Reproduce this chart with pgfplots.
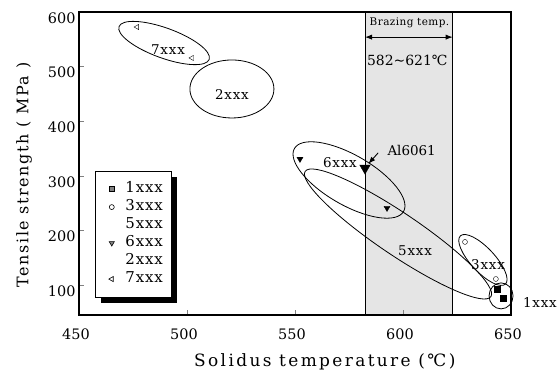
\documentclass[border=0pt]{standalone}
\usepackage{fontspec}
\setmainfont{DejaVu Serif}
\newfontfamily\xlabfont[LetterSpace=14]{DejaVu Serif}
\newfontfamily\ylabfont[LetterSpace=10]{DejaVu Serif}
\newfontfamily\legfont[LetterSpace=6]{DejaVu Serif}
\newfontfamily\smallfont[LetterSpace=4]{DejaVu Serif}
\usepackage{pgfplots}
\pgfplotsset{compat=1.18}
\usetikzlibrary{shadows,arrows.meta}
\begin{document}
\begin{tikzpicture}
\begin{axis}[
 name=ax,
 scale only axis, width=432bp, height=303bp,
 xmin=450, xmax=650, ymin=45, ymax=600,
 xtick={450,500,...,650}, ytick={100,200,...,600},
 tick align=inside, xtick pos=left, ytick pos=left,
 major tick length=5bp,
 axis line style={line width=1.4bp},
 axis on top,
 /pgf/number format/assume math mode=true,
 ticklabel style={font=\fontsize{14.5}{16}\selectfont},
 xticklabel style={yshift=-10bp, xshift=-3bp},
 yticklabel style={yshift=-6bp},
 xlabel={Solidus temperature (℃)},
 ylabel={Tensile strength ( MPa )},
 xlabel style={font=\xlabfont\fontsize{17}{20}\selectfont, at={(axis description cs:0.569,-0.155)}, anchor=center},
 ylabel style={font=\ylabfont\fontsize{16}{19}\selectfont, at={(axis description cs:-0.127,0.462)}, anchor=center},
 clip=false,
 legend style={at={(axis description cs:0.037,0.059)}, anchor=south west, draw=black, line width=0.6bp,
   font=\legfont\fontsize{15}{17}\selectfont,
   nodes={inner sep=0bp, text height=10.5bp, text depth=3bp},
   drop shadow={shadow xshift=6bp, shadow yshift=-6bp, fill=black, opacity=1},
   row sep=4.5bp, inner xsep=8bp, inner ysep=11bp,
   /tikz/every odd column/.append style={column sep=11bp}},
 legend cell align=left,
]
% brazing band
\fill[gray!20] (axis cs:582.4,45) rectangle (axis cs:623,600);
\draw[line width=0.8bp] (axis cs:582.4,45) -- (axis cs:582.4,600);
\draw[line width=0.8bp] (axis cs:623,45) -- (axis cs:623,600);
\node[font=\smallfont\fontsize{10.5}{12}\selectfont, inner sep=1bp] at (axis cs:603,580) {Brazing temp.};
\draw[{Latex}-{Latex}, line width=0.9bp] (axis cs:582.4,554) -- (axis cs:623,554);
\node[font=\fontsize{14}{16}\selectfont] at (axis cs:602,512) {582\textasciitilde621℃};

% legend entries
\addlegendimage{only marks, mark=square*, mark options={fill=gray, draw=black}, mark size=2.5}
\addlegendentry{1xxx}
\addlegendimage{only marks, mark=o, mark size=2.5}
\addlegendentry{3xxx}
\addlegendimage{empty legend}
\addlegendentry{5xxx}
\addlegendimage{only marks, mark=triangle*, mark options={rotate=180, fill=gray, draw=black}, mark size=3}
\addlegendentry{6xxx}
\addlegendimage{empty legend}
\addlegendentry{2xxx}
\addlegendimage{only marks, mark=triangle, mark options={rotate=90}, mark size=3}
\addlegendentry{7xxx}

% ellipses
\draw[line width=0.8bp, rotate around={-20:(axis cs:489.4,543.2)}] (axis cs:489.4,543.2) ellipse [x radius=48bp, y radius=15bp];
\draw[line width=0.8bp] (axis cs:520.8,459) ellipse [x radius=42bp, y radius=29bp];
\draw[line width=0.8bp, rotate around={-30:(axis cs:575,292.3)}] (axis cs:575,292.3) ellipse [x radius=63bp, y radius=25bp];
\draw[line width=0.8bp, rotate around={-34:(axis cs:597.7,193.4)}] (axis cs:597.7,193.4) ellipse [x radius=112bp, y radius=21bp];
\draw[line width=0.8bp, rotate around={-47:(axis cs:637,145.8)}] (axis cs:637,145.8) ellipse [x radius=33bp, y radius=12bp];
\draw[line width=0.8bp] (axis cs:645.4,80) ellipse [x radius=12bp, y radius=13bp];

% data
\addplot[only marks, mark=triangle, mark options={rotate=90}, mark size=3, forget plot] coordinates {(476.9,572.5) (502.3,515.8)};
\addplot[only marks, mark=triangle*, mark options={rotate=180, fill=black}, mark size=3.5, forget plot] coordinates {(552.3,330.8) (592.6,241)};
\addplot[only marks, mark=triangle*, mark options={rotate=180, fill=black}, mark size=6, forget plot] coordinates {(582.4,314)};
\addplot[only marks, mark=o, mark size=2.5, forget plot] coordinates {(628.7,178.8) (643,111)};
\addplot[only marks, mark=square*, mark options={fill=black}, mark size=2.8, forget plot] coordinates {(643.5,92.7) (646.3,76)};

% labels
\node[font=\legfont\fontsize{13.5}{15}\selectfont] at (axis cs:491.2,530.4) {7xxx};
\node[font=\legfont\fontsize{13.5}{15}\selectfont] at (axis cs:520.8,448) {2xxx};
\node[font=\legfont\fontsize{13.5}{15}\selectfont] at (axis cs:570.8,325) {6xxx};
\node[font=\fontsize{13.5}{15}\selectfont] at (axis cs:604,347) {Al6061};
\draw[-{Latex}, line width=0.9bp] (axis cs:588.5,342) -- (axis cs:584,322);
\node[font=\legfont\fontsize{13.5}{15}\selectfont] at (axis cs:605.6,162.3) {5xxx};
\node[font=\legfont\fontsize{13.5}{15}\selectfont] at (axis cs:639.4,136.7) {3xxx};
\node[font=\legfont\fontsize{13.5}{15}\selectfont] at (axis cs:663.4,67) {1xxx};
\end{axis}
\pgfresetboundingbox
\path ([shift={(-79bp,-59bp)}]ax.south west) rectangle ([shift={(49bp,12bp)}]ax.north east);
\end{tikzpicture}
\end{document}
